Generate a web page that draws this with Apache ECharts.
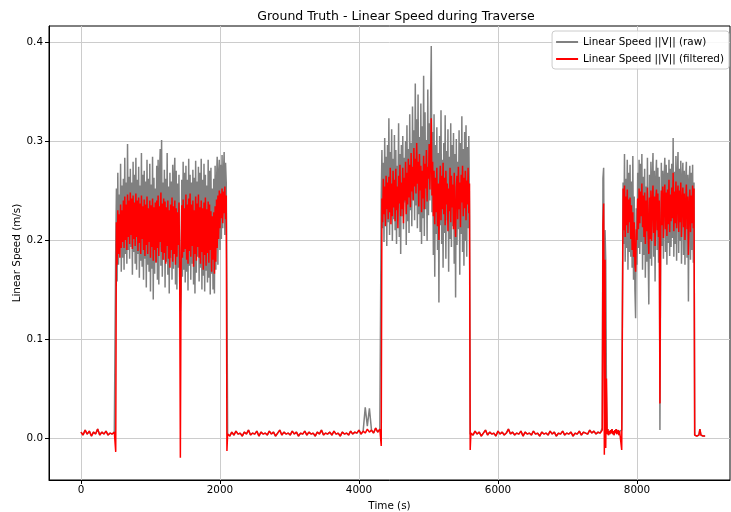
<!DOCTYPE html>
<html>
<head>
<meta charset="utf-8">
<script src="https://cdn.jsdelivr.net/npm/echarts@6/dist/echarts.min.js"></script>
<style>
html,body{margin:0;padding:0;background:#fff;}
#chart{width:731px;height:512px;}
</style>
</head>
<body>
<div id="chart"></div>
<script>
// ---- data (time in s, speed in m/s) ----
const xTicks = [0, 2000, 4000, 6000, 8000];
const yTicks = [0, 0.1, 0.2, 0.3, 0.4];

// idle 0..480 s, every 30 s (raw == filtered here)
const idleA = [0.006,0.003,0.008,0.004,0.007,0.002,0.006,0.004,0.009,0.003,0.006,0.004,0.007,0.003,0.005,0.004,0.006];

// traverse 1: 500..2100 s, every 10 s
const filt1 = [-0.014,
0.218,0.175,0.230,0.186,0.226,0.182,0.236,0.192,0.230,
0.198,0.240,0.192,0.244,0.200,0.236,0.190,0.246,0.203,0.240,
0.196,0.248,0.205,0.242,0.191,0.245,0.201,0.238,0.194,0.247,
0.203,0.240,0.189,0.243,0.197,0.237,0.186,0.245,0.201,0.234,
0.190,0.241,0.184,0.236,0.195,0.244,0.186,0.232,0.198,0.240,
0.182,0.235,0.193,0.242,0.179,0.233,0.190,0.238,0.177,0.240,
0.192,0.245,0.184,0.234,0.198,0.248,0.188,0.237,0.180,0.242,
0.187,0.239,0.176,0.233,0.194,0.240,0.181,0.230,0.172,0.236,
0.190,0.243,0.178,0.234,0.186,0.240,0.175,0.232,0.183,0.228,
0.195,0.238,0.177,-0.020,0.165,0.235,0.182,0.241,0.188,0.232,
0.191,0.246,0.180,0.236,0.176,0.242,0.189,0.247,0.183,0.236,
0.194,0.240,0.173,0.230,0.186,0.244,0.179,0.237,0.193,0.246,
0.182,0.233,0.176,0.240,0.188,0.232,0.170,0.238,0.185,0.243,
0.174,0.231,0.187,0.239,0.177,0.236,0.190,0.229,0.168,0.224,
0.180,0.228,0.166,0.234,0.178,0.241,0.192,0.245,0.201,0.250,
0.212,0.247,0.222,0.252,0.217,0.249,0.227,0.254,0.221,0.245,
-0.013];
const raw1 = [0.190,
0.252,0.158,0.268,0.175,0.246,0.195,0.277,0.168,0.255,
0.182,0.262,0.170,0.283,0.186,0.258,0.176,0.297,0.190,0.264,
0.181,0.272,0.193,0.258,0.165,0.279,0.188,0.266,0.176,0.283,
0.170,0.261,0.186,0.274,0.162,0.255,0.179,0.288,0.173,0.266,
0.160,0.270,0.181,0.259,0.152,0.281,0.175,0.262,0.168,0.277,
0.148,0.256,0.171,0.284,0.140,0.263,0.166,0.252,0.178,0.275,
0.160,0.281,0.155,0.266,0.292,0.174,0.301,0.163,0.258,0.180,
0.271,0.152,0.262,0.178,0.288,0.165,0.254,0.146,0.268,0.182,
0.259,0.160,0.276,0.171,0.262,0.283,0.155,0.270,0.150,0.257,
0.172,0.266,0.158,0.128,0.150,0.261,0.163,0.279,0.170,0.268,
0.157,0.275,0.168,0.261,0.149,0.282,0.174,0.266,0.160,0.258,
0.176,0.271,0.155,0.263,0.146,0.280,0.167,0.259,0.183,0.274,
0.158,0.268,0.172,0.282,0.150,0.261,0.164,0.277,0.148,0.266,
0.169,0.255,0.157,0.281,0.162,0.270,0.145,0.273,0.166,0.252,
0.150,0.262,0.146,0.275,0.170,0.258,0.284,0.175,0.268,0.281,
0.190,0.276,0.201,0.286,0.212,0.268,0.289,0.205,0.278,0.258,
0.150];

// idle 2110..4300 s, every 30 s
const filtIdleB = [0.004,0.002,0.006,0.003,0.007,0.004,0.005,0.002,0.006,0.004,
0.008,0.003,0.005,0.004,0.007,0.002,0.006,0.004,0.005,0.003,
0.007,0.004,0.006,0.002,0.005,0.008,0.003,0.006,0.004,0.005,
0.003,0.007,0.004,0.006,0.002,0.005,0.004,0.007,0.003,0.006,
0.004,0.005,0.002,0.006,0.004,0.008,0.003,0.005,0.004,0.006,
0.003,0.007,0.004,0.005,0.002,0.006,0.004,0.005,0.003,0.007,
0.004,0.006,0.005,0.008,0.004,0.007,0.005,0.009,0.006,0.008,
0.005,0.010,0.006,0.009];
const rawIdleB = [0.004,0.002,0.006,0.003,0.007,0.004,0.005,0.002,0.006,0.004,
0.008,0.003,0.005,0.004,0.007,0.002,0.006,0.004,0.005,0.003,
0.007,0.004,0.006,0.002,0.005,0.008,0.003,0.006,0.004,0.005,
0.003,0.007,0.004,0.006,0.002,0.005,0.004,0.007,0.003,0.006,
0.004,0.005,0.002,0.006,0.004,0.008,0.003,0.005,0.004,0.006,
0.003,0.007,0.004,0.005,0.002,0.006,0.004,0.005,0.003,0.007,
0.004,0.006,0.005,0.008,0.004,0.007,0.031,0.012,0.030,0.008,
0.005,0.010,0.006,0.009];

// traverse 2: 4320..5600 s, every 10 s
const filt2 = [-0.008,
0.242,0.218,0.262,0.226,0.254,0.214,0.265,0.231,0.258,
0.221,0.264,0.228,0.273,0.216,0.257,0.224,0.270,0.233,0.261,
0.219,0.272,0.230,0.254,0.212,0.265,0.237,0.276,0.224,0.258,
0.231,0.273,0.217,0.263,0.240,0.279,0.226,0.268,0.236,0.282,
0.243,0.276,0.233,0.288,0.249,0.274,0.240,0.293,0.254,0.282,
0.247,0.298,0.257,0.279,0.234,0.287,0.250,0.275,0.228,0.270,
0.242,0.285,0.231,0.277,0.252,0.291,0.239,0.274,0.262,0.297,
0.251,0.286,0.323,0.245,0.279,0.224,0.270,0.216,0.263,0.228,
0.273,0.214,0.257,0.200,0.251,0.275,0.220,0.265,0.231,0.278,
0.226,0.263,0.215,0.270,0.236,0.257,0.209,0.252,0.229,0.273,
0.218,0.265,0.233,0.256,0.211,0.268,0.224,0.203,0.253,0.265,
0.221,0.274,0.231,0.258,0.213,0.266,0.238,0.275,0.224,0.263,
0.232,0.270,0.220,0.260,0.236,0.273,0.227,0.257,
-0.012];
const raw2 = [0.240,
0.291,0.212,0.278,0.198,0.303,0.225,0.284,0.194,0.296,
0.218,0.323,0.205,0.289,0.228,0.312,0.199,0.282,0.221,0.306,
0.210,0.291,0.196,0.275,0.232,0.318,0.203,0.287,0.186,0.296,
0.224,0.305,0.211,0.283,0.238,0.300,0.195,0.316,0.219,0.292,
0.207,0.327,0.230,0.298,0.214,0.335,0.241,0.311,0.220,0.358,
0.235,0.322,0.212,0.347,0.226,0.304,0.208,0.338,0.196,0.315,
0.222,0.366,0.204,0.329,0.231,0.301,0.199,0.352,0.225,0.318,
0.240,0.332,0.396,0.228,0.309,0.185,0.327,0.163,0.296,0.206,
0.314,0.190,0.288,0.137,0.305,0.215,0.331,0.196,0.281,0.172,
0.298,0.207,0.326,0.181,0.290,0.220,0.312,0.168,0.284,0.201,
0.318,0.193,0.296,0.214,0.308,0.176,0.287,0.142,0.302,0.195,
0.279,0.211,0.311,0.165,0.298,0.206,0.325,0.188,0.292,0.174,
0.309,0.199,0.316,0.183,0.294,0.212,0.305,0.226,
0.004];

// idle 5610..7470 s, every 30 s (raw == filtered here)
const idleC = [0.005,0.003,0.007,0.004,0.006,0.002,0.005,0.008,0.003,0.006,
0.004,0.005,0.002,0.007,0.004,0.006,0.003,0.005,0.009,0.004,
0.006,0.003,0.005,0.004,0.007,0.002,0.006,0.004,0.005,0.003,
0.007,0.004,0.005,0.002,0.006,0.004,0.005,0.003,0.007,0.004,
0.006,0.002,0.005,0.004,0.007,0.003,0.005,0.004,0.006,0.002,
0.005,0.004,0.007,0.003,0.006,0.005,0.004,0.008,0.005,0.007,
0.004,0.006,0.005];

// short burst 7480..7780 s, every 10 s
const filtBurst = [0.006,0.004,0.008,0.215,0.237,-0.017,0.180,-0.010,0.060,0.004,
0.009,0.003,0.007,0.004,0.008,0.005,0.009,0.004,0.007,0.003,
0.008,0.005,0.009,0.004,0.006,0.008,0.003,0.007,0.005,0.009,
-0.012];
const rawBurst = [0.006,0.004,0.010,0.262,0.273,0.120,0.210,0.180,0.050,0.004,
0.009,0.003,0.007,0.004,0.008,0.005,0.009,0.004,0.007,0.003,
0.008,0.005,0.009,0.004,0.006,0.008,0.003,0.007,0.005,0.009,
0.008];

// traverse 3: 7800..8820 s, every 10 s
const filt3 = [0.252,
0.210,0.255,0.203,0.244,0.215,0.251,0.207,0.241,0.218,
0.243,0.201,0.235,0.190,0.228,0.183,0.218,0.175,0.168,0.211,
0.200,0.242,0.211,0.252,0.217,0.249,0.224,0.257,0.213,0.245,
0.203,0.248,0.196,0.240,0.209,0.253,0.205,0.186,0.243,0.201,
0.250,0.199,0.238,0.255,0.207,0.244,0.194,0.241,0.251,0.210,
0.247,0.203,0.240,0.035,0.206,0.250,0.215,0.254,0.202,0.243,
0.256,0.211,0.248,0.204,0.251,0.216,0.261,0.208,0.246,0.219,
0.253,0.222,0.268,0.209,0.249,0.217,0.259,0.212,0.245,0.255,
0.208,0.250,0.218,0.258,0.203,0.240,0.253,0.213,0.247,0.200,
0.237,0.256,0.211,0.244,0.185,0.235,0.251,0.208,0.245,0.217,
0.255,0.212,0.252];
const raw3 = [0.258,
0.196,0.287,0.178,0.262,0.192,0.281,0.170,0.268,0.188,
0.276,0.183,0.259,0.172,0.285,0.160,0.244,0.150,0.121,0.232,
0.175,0.268,0.192,0.281,0.186,0.277,0.198,0.287,0.170,0.264,
0.185,0.272,0.162,0.254,0.178,0.283,0.190,0.135,0.266,0.181,
0.279,0.174,0.262,0.288,0.183,0.270,0.158,0.259,0.281,0.190,
0.273,0.177,0.264,0.008,0.186,0.278,0.194,0.270,0.181,0.261,
0.283,0.188,0.276,0.175,0.268,0.197,0.281,0.184,0.272,0.193,
0.277,0.202,0.303,0.183,0.269,0.196,0.285,0.179,0.266,0.289,
0.187,0.272,0.199,0.280,0.176,0.262,0.278,0.185,0.270,0.175,
0.261,0.279,0.182,0.266,0.138,0.258,0.275,0.180,0.268,0.190,
0.276,0.177,0.258];

// idle 8830..8980 s, every 15 s (raw == filtered here)
const idleD = [0.003,0.005,0.002,0.004,0.003,0.009,0.003,0.004,0.002,0.003,0.002];

// ---- build series from chunks (start time, step, values) ----
function chunk(t0, dt, vals) { return vals.map((v, i) => [t0 + i * dt, v]); }
const rawData = [].concat(
  chunk(0, 30, idleA), chunk(500, 10, raw1), chunk(2110, 30, rawIdleB),
  chunk(4320, 10, raw2), chunk(5610, 30, idleC), chunk(7480, 10, rawBurst),
  chunk(7800, 10, raw3), chunk(8830, 15, idleD));
const filtData = [].concat(
  chunk(0, 30, idleA), chunk(500, 10, filt1), chunk(2110, 30, filtIdleB),
  chunk(4320, 10, filt2), chunk(5610, 30, idleC), chunk(7480, 10, filtBurst),
  chunk(7800, 10, filt3), chunk(8830, 15, idleD));

const FONT = 'DejaVu Sans';
const chart = echarts.init(document.getElementById('chart'), null, {renderer: 'canvas'});
chart.setOption({
  animation: false,
  backgroundColor: '#ffffff',
  textStyle: {fontFamily: FONT},
  title: {
    text: 'Ground Truth - Linear Speed during Traverse',
    left: 391, top: 5, textAlign: 'center',
    textStyle: {fontFamily: FONT, fontSize: 12.5, fontWeight: 'normal', color: '#000'}
  },
  legend: {
    orient: 'vertical', right: 2, top: 31,
    padding: [5, 5, 4, 4], itemGap: 5,
    itemWidth: 22, itemHeight: 2, icon: 'rect',
    backgroundColor: 'rgba(255,255,255,0.85)',
    borderColor: '#cccccc', borderWidth: 1, borderRadius: 3,
    textStyle: {fontFamily: FONT, fontSize: 10.4, color: '#000', lineHeight: 12},
    data: ['Linear Speed ||V|| (raw)', 'Linear Speed ||V|| (filtered)']
  },
  grid: {left: 49, right: 1, top: 26, bottom: 32, outerBoundsMode: 'none',
    show: true, borderColor: '#000', borderWidth: 1, backgroundColor: 'transparent'},
  xAxis: {
    type: 'value', min: -460, max: 9338,
    name: 'Time (s)', nameLocation: 'middle', nameGap: 21, nameMoveOverlap: false,
    nameTextStyle: {fontFamily: FONT, fontSize: 10.4, color: '#000'},
    axisLine: {show: true, onZero: false, lineStyle: {color: '#000', width: 1}},
    axisTick: {show: true, length: 4, customValues: xTicks, lineStyle: {color: '#000', width: 1}},
    axisLabel: {customValues: xTicks, fontFamily: FONT, fontSize: 10.4, color: '#000', margin: 5,
      formatter: v => String(v)},
    splitLine: {show: true, lineStyle: {color: '#cccccc', width: 1}}
  },
  yAxis: {
    type: 'value', min: -0.0424, max: 0.4162,
    name: 'Linear Speed (m/s)', nameLocation: 'middle', nameGap: 27, nameMoveOverlap: false,
    nameTextStyle: {fontFamily: FONT, fontSize: 10.4, color: '#000'},
    axisLine: {show: true, onZero: false, lineStyle: {color: '#000', width: 1}},
    axisTick: {show: true, length: 4, customValues: yTicks, lineStyle: {color: '#000', width: 1}},
    axisLabel: {customValues: yTicks, fontFamily: FONT, fontSize: 10.4, color: '#000', margin: 6,
      formatter: v => v.toFixed(1)},
    splitLine: {show: true, lineStyle: {color: '#cccccc', width: 1}}
  },
  series: [
    {name: 'Linear Speed ||V|| (raw)', type: 'line', data: rawData, symbol: 'none', showSymbol: false,
      lineStyle: {color: '#808080', width: 1.5}, itemStyle: {color: '#808080'}, z: 2},
    {name: 'Linear Speed ||V|| (filtered)', type: 'line', data: filtData, symbol: 'none', showSymbol: false,
      lineStyle: {color: '#ff0000', width: 1.5}, itemStyle: {color: '#ff0000'}, z: 3}
  ]
});
</script>
</body>
</html>
